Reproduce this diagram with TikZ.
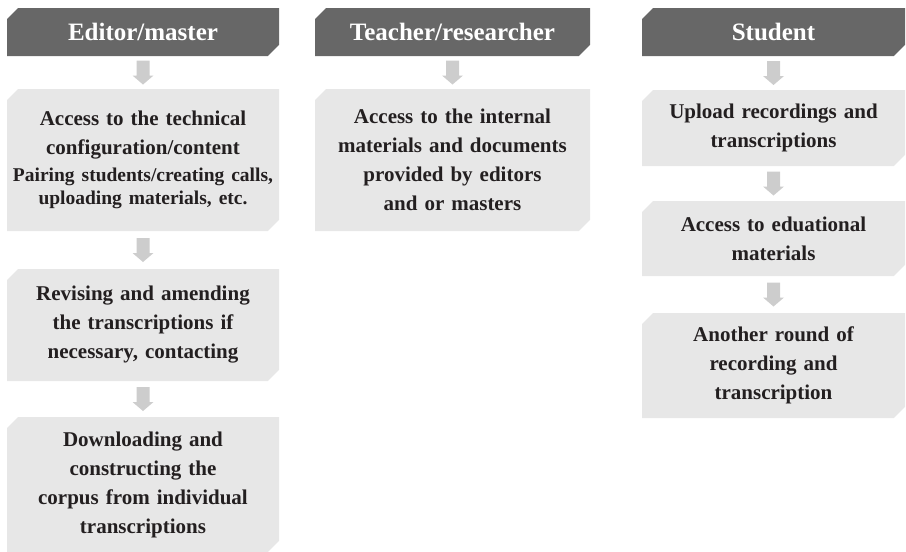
\documentclass[tikz,border=0pt]{standalone}
\usepackage{fontspec}
\setmainfont{Liberation Serif}
\usetikzlibrary{shapes.misc,calc}
\definecolor{hdr}{HTML}{676767}
\definecolor{boxg}{HTML}{E7E7E7}
\definecolor{arrg}{HTML}{CDCDCD}
\definecolor{ink}{HTML}{231F20}
\tikzset{
  base/.style={chamfered rectangle, chamfered rectangle corners={north west,south east},
    chamfered rectangle xsep=8pt, chamfered rectangle angle=45, inner sep=0pt, align=center},
  hdrbox/.style={base, fill=hdr, text=white, font=\bfseries\fontsize{25}{28}\selectfont, minimum height=48pt},
  stepbox/.style={base, fill=boxg, text=ink, font=\bfseries\fontsize{21}{29}\selectfont},
  blockarrow/.style={fill=arrg}
}
\newcommand{\subsz}{\fontsize{19.5}{23}\selectfont}
% block arrow between two named nodes
\newcommand{\blockarr}[2]{%
  \path[blockarrow] let \p1=($(#1.south)!0.5!(#2.north)$) in
    (\x1-6.5pt,\y1+12pt) -- (\x1+6.5pt,\y1+12pt) -- (\x1+6.5pt,\y1-3pt) --
    (\x1+10.5pt,\y1-3pt) -- (\x1,\y1-12pt) -- (\x1-10.5pt,\y1-3pt) --
    (\x1-6.5pt,\y1-3pt) -- cycle;}
\begin{document}
\begin{tikzpicture}[x=1pt,y=-1pt]
\useasboundingbox (0,0) rectangle (906,552);
% column 1
\node[hdrbox, minimum width=272pt] (h1) at (143,32) {Editor/master};
\node[stepbox, minimum width=272pt, minimum height=142pt, text width=254pt] (a1) at (143,160)
  {Access to the technical\\configuration/content\par\vskip4pt
   \subsz\makebox[\linewidth][c]{Pairing students/creating calls,}\\uploading materials, etc.\par};
\node[stepbox, minimum width=272pt, minimum height=112pt, text width=254pt] (a2) at (143,325)
  {Revising and amending\\the transcriptions if\\necessary, contacting};
\node[stepbox, minimum width=272pt, minimum height=135pt, text width=254pt] (a3) at (143,484.5)
  {Downloading and\\constructing the\\corpus from individual\\transcriptions};
\blockarr{h1}{a1}
\blockarr{a1}{a2}
\blockarr{a2}{a3}
% column 2
\node[hdrbox, minimum width=275pt] (h2) at (452.5,32) {Teacher/researcher};
\node[stepbox, minimum width=275pt, minimum height=142pt, text width=257pt] (b1) at (452.5,160)
  {Access to the internal\\materials and documents\\provided by editors\\and or masters};
\blockarr{h2}{b1}
% column 3
\node[hdrbox, minimum width=263pt] (h3) at (773.5,32) {Student};
\node[stepbox, minimum width=263pt, minimum height=76pt, text width=245pt] (c1) at (773.5,128)
  {Upload recordings and\\transcriptions};
\node[stepbox, minimum width=263pt, minimum height=75pt, text width=245pt] (c2) at (773.5,238.5)
  {Access to eduational\\materials};
\node[stepbox, minimum width=263pt, minimum height=105pt, text width=245pt] (c3) at (773.5,365.5)
  {Another round of\\recording and\\transcription};
\blockarr{h3}{c1}
\blockarr{c1}{c2}
\blockarr{c2}{c3}
\end{tikzpicture}
\end{document}
